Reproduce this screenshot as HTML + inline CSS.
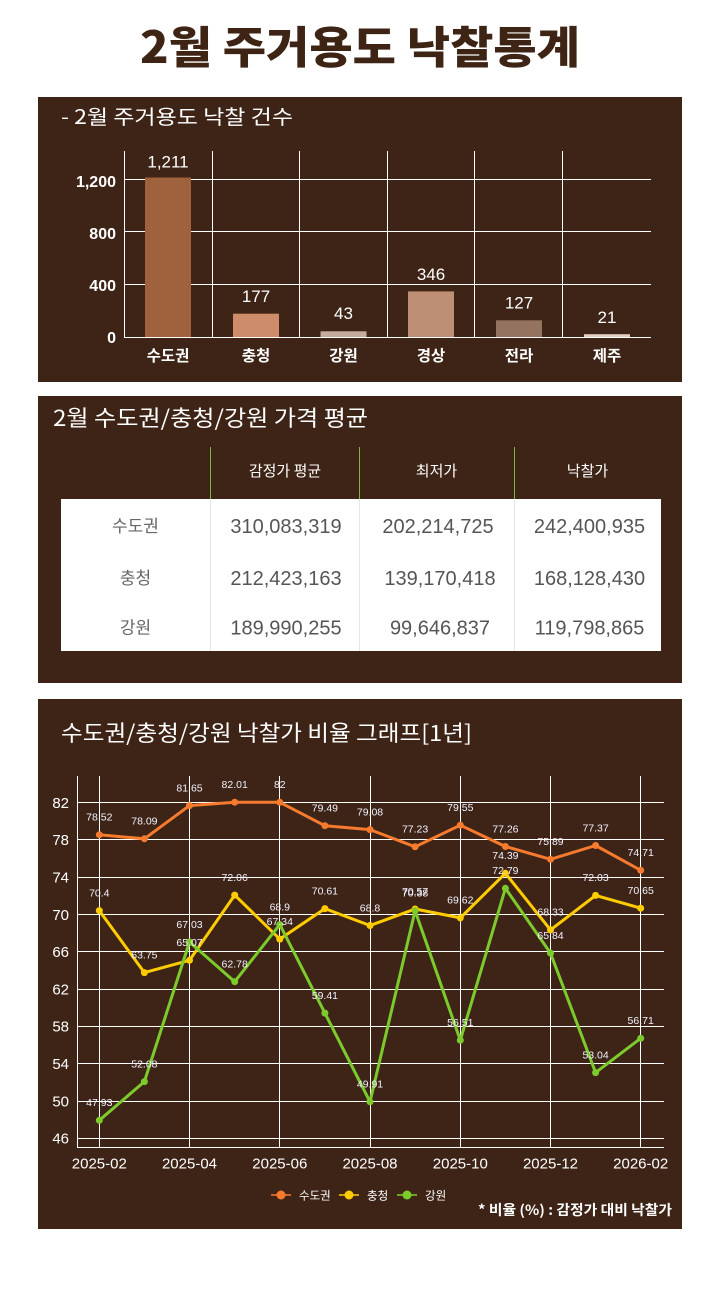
<!DOCTYPE html>
<html><head><meta charset="utf-8">
<style>
html,body{margin:0;padding:0;background:#fff;}
body{width:720px;height:1300px;overflow:hidden;}
svg{display:block;}
text{font-family:"Liberation Sans","Noto Sans CJK KR",sans-serif;}
.k{font-family:"Noto Sans CJK KR","Liberation Sans",sans-serif;}
</style></head>
<body>
<svg width="720" height="1300" viewBox="0 0 720 1300" xmlns="http://www.w3.org/2000/svg">
<rect x="0" y="0" width="720" height="1300" fill="#fff"/>
<!-- Main title -->
<text class="k" x="360" y="63" text-anchor="middle" font-size="44" font-weight="900" fill="#3e2414" textLength="440" lengthAdjust="spacingAndGlyphs">2월 주거용도 낙찰통계</text>

<!-- Panel 1 -->
<rect x="38" y="97" width="644" height="285" fill="#3e2416"/>
<text class="k" x="61" y="124" font-size="20" fill="#fff" textLength="232" lengthAdjust="spacingAndGlyphs">- 2월 주거용도 낙찰 건수</text>
<g stroke="#fff" stroke-width="1">
<line x1="124" y1="179.5" x2="651" y2="179.5"/>
<line x1="124" y1="231.5" x2="651" y2="231.5"/>
<line x1="124" y1="284.5" x2="651" y2="284.5"/>
<line x1="124" y1="337.5" x2="651" y2="337.5"/>
<line x1="124.5" y1="151" x2="124.5" y2="337"/>
<line x1="212.5" y1="151" x2="212.5" y2="337"/>
<line x1="299.5" y1="151" x2="299.5" y2="337"/>
<line x1="387.5" y1="151" x2="387.5" y2="337"/>
<line x1="474.5" y1="151" x2="474.5" y2="337"/>
<line x1="562.5" y1="151" x2="562.5" y2="337"/>
</g>
<rect x="145" y="177.5" width="46" height="159.5" fill="#a0623d"/>
<rect x="233" y="313.7" width="46" height="23.3" fill="#cd8d6a"/>
<rect x="320.5" y="331.3" width="46" height="5.7" fill="#c4ab9b"/>
<rect x="408" y="291.4" width="46" height="45.6" fill="#bd8f74"/>
<rect x="496" y="320.3" width="46" height="16.7" fill="#957361"/>
<rect x="584" y="334.2" width="46" height="2.8" fill="#e2cfc3"/>
<g font-size="17" fill="#fff" text-anchor="middle">
<text x="168" y="167.7">1,211</text>
<text x="256" y="302">177</text>
<text x="343.5" y="319">43</text>
<text x="431" y="280">346</text>
<text x="519" y="308.5">127</text>
<text x="607" y="323">21</text>
</g>
<g font-size="16" fill="#fff" text-anchor="end" font-weight="bold">
<text x="116" y="187">1,200</text>
<text x="116" y="239">800</text>
<text x="116" y="291">400</text>
<text x="116" y="343">0</text>
</g>
<g class="k" font-size="15.5" fill="#fff" text-anchor="middle" font-weight="bold">
<text class="k" x="168" y="361">수도권</text>
<text class="k" x="256" y="361">충청</text>
<text class="k" x="343.5" y="361">강원</text>
<text class="k" x="431" y="361">경상</text>
<text class="k" x="519" y="361">전라</text>
<text class="k" x="607" y="361">제주</text>
</g>

<!-- Panel 2 -->
<rect x="38" y="396" width="644" height="287" fill="#3e2416"/>
<text class="k" x="53" y="426" font-size="22" fill="#fff" textLength="315" lengthAdjust="spacingAndGlyphs">2월 수도권/충청/강원 가격 평균</text>
<rect x="61" y="499" width="600" height="152" fill="#fff"/>
<g stroke="#7ab648" stroke-width="1">
<line x1="210.5" y1="447" x2="210.5" y2="499"/>
<line x1="359.5" y1="447" x2="359.5" y2="499"/>
<line x1="514.5" y1="447" x2="514.5" y2="499"/>
</g>
<g stroke="#e6e6e6" stroke-width="1">
<line x1="210.5" y1="499" x2="210.5" y2="651"/>
<line x1="359.5" y1="499" x2="359.5" y2="651"/>
<line x1="514.5" y1="499" x2="514.5" y2="651"/>
</g>
<g font-size="15" fill="#fff" text-anchor="middle">
<text class="k" x="285" y="476">감정가 평균</text>
<text class="k" x="436.5" y="476">최저가</text>
<text class="k" x="587.5" y="476">낙찰가</text>
</g>
<g font-size="17" fill="#666" text-anchor="middle">
<text class="k" x="135.5" y="532">수도권</text>
<text class="k" x="135.5" y="584">충청</text>
<text class="k" x="135.5" y="633.5">강원</text>
</g>
<g font-size="20" fill="#555" text-anchor="middle">
<text x="286" y="533.2">310,083,319</text>
<text x="438" y="533.2">202,214,725</text>
<text x="589.5" y="533.2">242,400,935</text>
<text x="286" y="585">212,423,163</text>
<text x="440" y="585">139,170,418</text>
<text x="589.5" y="585">168,128,430</text>
<text x="286" y="634.5">189,990,255</text>
<text x="440" y="634.5">99,646,837</text>
<text x="589.5" y="634.5">119,798,865</text>
</g>

<!-- Panel 3 -->
<rect x="38" y="699" width="644" height="530" fill="#3e2416"/>
<text class="k" x="61" y="741" font-size="22" fill="#fff" textLength="411" lengthAdjust="spacingAndGlyphs">수도권/충청/강원 낙찰가 비율 그래프[1년]</text>
<g stroke="#fff" stroke-width="1">
<line x1="77" y1="802.5" x2="664" y2="802.5"/>
<line x1="77" y1="839.5" x2="664" y2="839.5"/>
<line x1="77" y1="877.5" x2="664" y2="877.5"/>
<line x1="77" y1="914.5" x2="664" y2="914.5"/>
<line x1="77" y1="951.5" x2="664" y2="951.5"/>
<line x1="77" y1="989.5" x2="664" y2="989.5"/>
<line x1="77" y1="1026.5" x2="664" y2="1026.5"/>
<line x1="77" y1="1063.5" x2="664" y2="1063.5"/>
<line x1="77" y1="1101.5" x2="664" y2="1101.5"/>
<line x1="77" y1="1138.5" x2="664" y2="1138.5"/>
<line x1="77" y1="1147.5" x2="664" y2="1147.5"/>
<line x1="77.5" y1="776" x2="77.5" y2="1147.5"/>
<line x1="99.5" y1="776" x2="99.5" y2="1147.5"/>
<line x1="189.5" y1="776" x2="189.5" y2="1147.5"/>
<line x1="279.5" y1="776" x2="279.5" y2="1147.5"/>
<line x1="370.5" y1="776" x2="370.5" y2="1147.5"/>
<line x1="460.5" y1="776" x2="460.5" y2="1147.5"/>
<line x1="550.5" y1="776" x2="550.5" y2="1147.5"/>
<line x1="640.5" y1="776" x2="640.5" y2="1147.5"/>
</g>
<g font-size="15" fill="#fff" text-anchor="end">
<text x="69" y="808">82</text>
<text x="69" y="845.2">78</text>
<text x="69" y="882.5">74</text>
<text x="69" y="919.8">70</text>
<text x="69" y="957.1">66</text>
<text x="69" y="994.4">62</text>
<text x="69" y="1031.7">58</text>
<text x="69" y="1069.1">54</text>
<text x="69" y="1106.4">50</text>
<text x="69" y="1143.7">46</text>
</g>
<g font-size="15" fill="#fff" text-anchor="middle">
<text x="99.3" y="1168.5">2025-02</text>
<text x="189.5" y="1168.5">2025-04</text>
<text x="279.8" y="1168.5">2025-06</text>
<text x="370" y="1168.5">2025-08</text>
<text x="460.3" y="1168.5">2025-10</text>
<text x="550.5" y="1168.5">2025-12</text>
<text x="640.7" y="1168.5">2026-02</text>
</g>

<!-- series -->
<g fill="none" stroke-width="3" stroke-linejoin="round">
<polyline stroke="#f77b2e" points="99.3,834.8 144.4,838.8 189.5,805.6 234.7,802.2 279.8,802.3 324.9,825.7 370,829.6 415.1,846.8 460.3,825.2 505.4,846.5 550.5,859.3 595.6,845.5 640.7,870.3"/>
</g>
<g fill="#f77b2e">
<circle cx="99.3" cy="834.8" r="3.5"/><circle cx="144.4" cy="838.8" r="3.5"/><circle cx="189.5" cy="805.6" r="3.5"/><circle cx="234.7" cy="802.2" r="3.5"/><circle cx="279.8" cy="802.3" r="3.5"/><circle cx="324.9" cy="825.7" r="3.5"/><circle cx="370" cy="829.6" r="3.5"/><circle cx="415.1" cy="846.8" r="3.5"/><circle cx="460.3" cy="825.2" r="3.5"/><circle cx="505.4" cy="846.5" r="3.5"/><circle cx="550.5" cy="859.3" r="3.5"/><circle cx="595.6" cy="845.5" r="3.5"/><circle cx="640.7" cy="870.3" r="3.5"/>
</g>
<polyline fill="none" stroke="#ffcc00" stroke-width="3" stroke-linejoin="round" points="99.3,910.6 144.4,972.6 189.5,960.3 234.7,895.1 279.8,939.1 324.9,908.6 370,925.5 415.1,909 460.3,917.9 505.4,873.3 550.5,929.9 595.6,895.4 640.7,908.2"/>
<g fill="#ffcc00">
<circle cx="99.3" cy="910.6" r="3.5"/><circle cx="144.4" cy="972.6" r="3.5"/><circle cx="189.5" cy="960.3" r="3.5"/><circle cx="234.7" cy="895.1" r="3.5"/><circle cx="279.8" cy="939.1" r="3.5"/><circle cx="324.9" cy="908.6" r="3.5"/><circle cx="370" cy="925.5" r="3.5"/><circle cx="415.1" cy="909" r="3.5"/><circle cx="460.3" cy="917.9" r="3.5"/><circle cx="505.4" cy="873.3" r="3.5"/><circle cx="550.5" cy="929.9" r="3.5"/><circle cx="595.6" cy="895.4" r="3.5"/><circle cx="640.7" cy="908.2" r="3.5"/>
</g>
<polyline fill="none" stroke="#7ccb2c" stroke-width="3" stroke-linejoin="round" points="99.3,1120.3 144.4,1081.6 189.5,942 234.7,981.7 279.8,924.6 324.9,1013.1 370,1101.8 415.1,910.8 460.3,1040.2 505.4,888.3 550.5,953.1 595.6,1072.6 640.7,1038.3"/>
<g fill="#7ccb2c">
<circle cx="99.3" cy="1120.3" r="3.5"/><circle cx="144.4" cy="1081.6" r="3.5"/><circle cx="189.5" cy="942" r="3.5"/><circle cx="234.7" cy="981.7" r="3.5"/><circle cx="279.8" cy="924.6" r="3.5"/><circle cx="324.9" cy="1013.1" r="3.5"/><circle cx="370" cy="1101.8" r="3.5"/><circle cx="415.1" cy="910.8" r="3.5"/><circle cx="460.3" cy="1040.2" r="3.5"/><circle cx="505.4" cy="888.3" r="3.5"/><circle cx="550.5" cy="953.1" r="3.5"/><circle cx="595.6" cy="1072.6" r="3.5"/><circle cx="640.7" cy="1038.3" r="3.5"/>
</g>

<!-- data labels -->
<g font-size="10.5" fill="#f2f2ff" text-anchor="middle">
<text x="99.3" y="820.6">78.52</text>
<text x="144.4" y="824.6">78.09</text>
<text x="189.5" y="791.4">81.65</text>
<text x="234.7" y="788">82.01</text>
<text x="279.8" y="788.1">82</text>
<text x="324.9" y="811.5">79.49</text>
<text x="370" y="815.4">79.08</text>
<text x="415.1" y="832.6">77.23</text>
<text x="460.3" y="811">79.55</text>
<text x="505.4" y="832.3">77.26</text>
<text x="550.5" y="845.1">75.89</text>
<text x="595.6" y="831.3">77.37</text>
<text x="640.7" y="856.1">74.71</text>

<text x="99.3" y="896.4">70.4</text>
<text x="144.4" y="958.4">63.75</text>
<text x="189.5" y="946.1">65.07</text>
<text x="234.7" y="880.9">72.06</text>
<text x="279.8" y="924.9">67.34</text>
<text x="324.9" y="894.4">70.61</text>
<text x="370" y="911.3">68.8</text>
<text x="415.1" y="894.8">70.57</text>
<text x="460.3" y="903.7">69.62</text>
<text x="505.4" y="859.1">74.39</text>
<text x="550.5" y="915.7">68.33</text>
<text x="595.6" y="881.2">72.03</text>
<text x="640.7" y="894">70.65</text>

<text x="99.3" y="1106.1">47.93</text>
<text x="144.4" y="1067.4">52.08</text>
<text x="189.5" y="927.8">67.03</text>
<text x="234.7" y="967.5">62.78</text>
<text x="279.8" y="910.4">68.9</text>
<text x="324.9" y="998.9">59.41</text>
<text x="370" y="1087.6">49.91</text>
<text x="415.1" y="896.6">70.38</text>
<text x="460.3" y="1026">56.51</text>
<text x="505.4" y="874.1">72.79</text>
<text x="550.5" y="938.9">65.84</text>
<text x="595.6" y="1058.4">53.04</text>
<text x="640.7" y="1024.1">56.71</text>
</g>

<!-- legend -->
<g stroke-width="1.5">
<line x1="271" y1="1195" x2="291" y2="1195" stroke="#f77b2e"/>
<line x1="339" y1="1195" x2="359" y2="1195" stroke="#ffcc00"/>
<line x1="397" y1="1195" x2="417" y2="1195" stroke="#7ccb2c"/>
</g>
<circle cx="281" cy="1195" r="4.5" fill="#f77b2e"/>
<circle cx="349" cy="1195" r="4.5" fill="#ffcc00"/>
<circle cx="407" cy="1195" r="4.5" fill="#7ccb2c"/>
<g font-size="11.5" fill="#fff">
<text class="k" x="299" y="1199.5">수도권</text>
<text class="k" x="367" y="1199.5">충청</text>
<text class="k" x="425" y="1199.5">강원</text>
</g>
<text class="k" x="478" y="1215" font-size="14" font-weight="bold" fill="#fff" textLength="194" lengthAdjust="spacingAndGlyphs">* 비율 (%) : 감정가 대비 낙찰가</text>
</svg>
</body></html>
